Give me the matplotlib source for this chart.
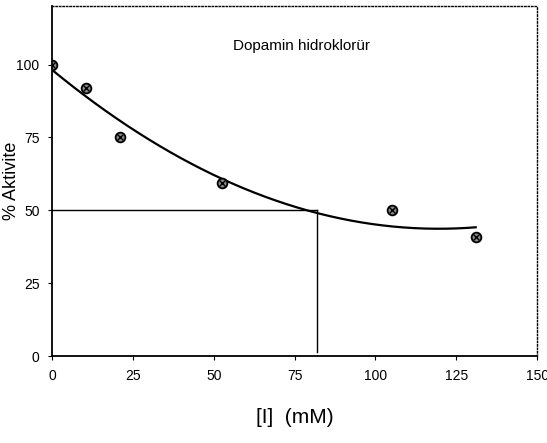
import numpy as np
import matplotlib
matplotlib.use("Agg")
import matplotlib.pyplot as plt

plt.rcParams['font.family'] = ['Liberation Sans Narrow', 'Liberation Sans', 'DejaVu Sans']

# veri
konsantrasyon = [0, 10.5, 21, 52.5, 105, 131]
aktivite = [100, 92, 75, 59.5, 50, 41]
ic50 = 82
x_ticks = [0, 25, 50, 75, 100, 125, 150]
y_ticks = [0, 25, 50, 75, 100]

# ikinci derece trend
katsayi = np.polyfit(konsantrasyon, aktivite, 2)
xs = np.linspace(0, konsantrasyon[-1], 200)
ys = np.polyval(katsayi, xs)

fig = plt.figure(figsize=(5.47, 4.43), dpi=100)
ax = fig.add_axes([0.095, 0.196, 0.887, 0.79])

ax.plot(xs, ys, color='black', lw=1.6)
ax.plot(konsantrasyon, aktivite, 'o', ms=7, mfc='#888888', mec='black', mew=1.3)
ax.plot(konsantrasyon, aktivite, 'x', ms=4, color='black', mew=1.0)

ax.plot([0, ic50], [50, 50], color='black', lw=1.0)
ax.plot([ic50, ic50], [50, 1.5], color='black', lw=1.0)

ax.text(77, 106.5, 'Dopamin hidroklorür', ha='center', va='center', fontsize=11)

ax.set_xlim(0, 150)
ax.set_ylim(0, 120)
ax.set_xticks(x_ticks)
ax.set_yticks(y_ticks)
ax.tick_params(direction='out', length=3, labelsize=10, pad=6)

for s in ['top', 'right']:
    ax.spines[s].set_linestyle((0, (1, 1.5)))
    ax.spines[s].set_linewidth(1.0)
for s in ['left', 'bottom']:
    ax.spines[s].set_linewidth(1.3)

ax.set_ylabel('% Aktivite', fontsize=13)
ax.yaxis.set_label_coords(-0.065, 0.5)
ax.set_xlabel('[I]  (mM)', fontsize=15, family=['Liberation Sans', 'DejaVu Sans'], labelpad=18)

fig.savefig('out.png', dpi=100)
